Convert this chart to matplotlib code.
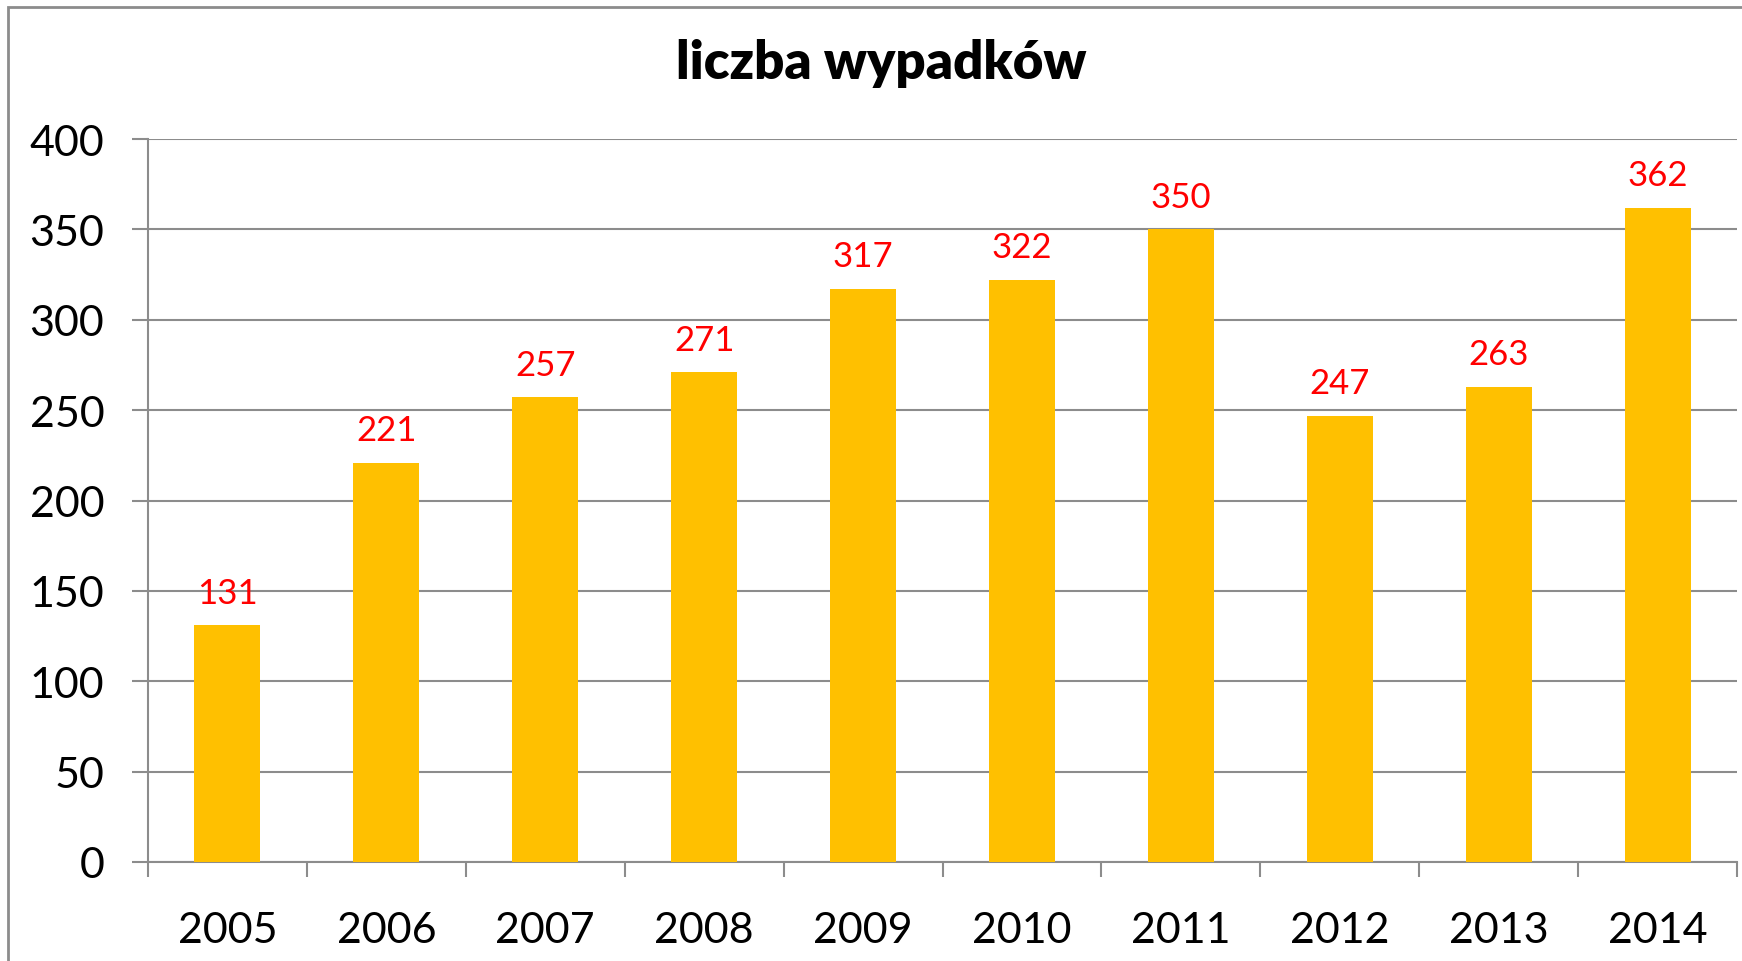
import matplotlib.pyplot as plt
from matplotlib.patches import Rectangle

years = ["2005", "2006", "2007", "2008", "2009", "2010", "2011", "2012", "2013", "2014"]
accidents = [131, 221, 257, 271, 317, 322, 350, 247, 263, 362]
y_ticks = [0, 50, 100, 150, 200, 250, 300, 350, 400]

plt.rcParams['font.family'] = ['Lato', 'DejaVu Sans']

W, H = 1742, 962
fig = plt.figure(figsize=(W / 100, H / 100), dpi=100)
ax = fig.add_axes([148 / W, 1 - 863 / H, (1737 - 148) / W, (863 - 140) / H])

# outer chart frame (only left and top visible in the crop)
fig.patches.append(Rectangle((8 / W, -0.5), 2, 1.5 - 8 / H, transform=fig.transFigure,
                             fill=False, edgecolor="#8c8c8c", linewidth=2))

x = list(range(len(years)))
bars = ax.bar(x, accidents, width=0.415, color="#FFC000", zorder=3)

for xi, v in zip(x, accidents):
    ax.annotate(str(v), (xi, v), xytext=(0, 12), textcoords="offset points",
                ha="center", va="bottom", color="#FF0000", fontsize=25)

ax.set_xlim(-0.5, len(years) - 0.5)
ax.set_ylim(0, 400)
ax.set_yticks(y_ticks)
ax.tick_params(axis="y", labelsize=31, length=11.5, width=1.5, color="#8c8c8c", pad=20)
ax.yaxis.grid(True, color="#8c8c8c", linewidth=1.5, zorder=0)

ax.set_xticks(x)
ax.set_xticklabels(years)
ax.tick_params(axis="x", which="major", labelsize=31, length=0, pad=35)
ax.set_xticks([i - 0.5 for i in range(len(years) + 1)], minor=True)
ax.tick_params(axis="x", which="minor", length=11, width=1.5, color="#8c8c8c")

for side in ["top", "right"]:
    ax.spines[side].set_visible(False)
for side in ["left", "bottom"]:
    ax.spines[side].set_color("#8c8c8c")
    ax.spines[side].set_linewidth(1.5)
ax.set_axisbelow(True)

fig.text(881 / W, 1 - 64 / H, "liczba wypadków", ha="center", va="center",
         fontsize=38, fontweight="heavy")

fig.savefig("out.png", dpi=100)
